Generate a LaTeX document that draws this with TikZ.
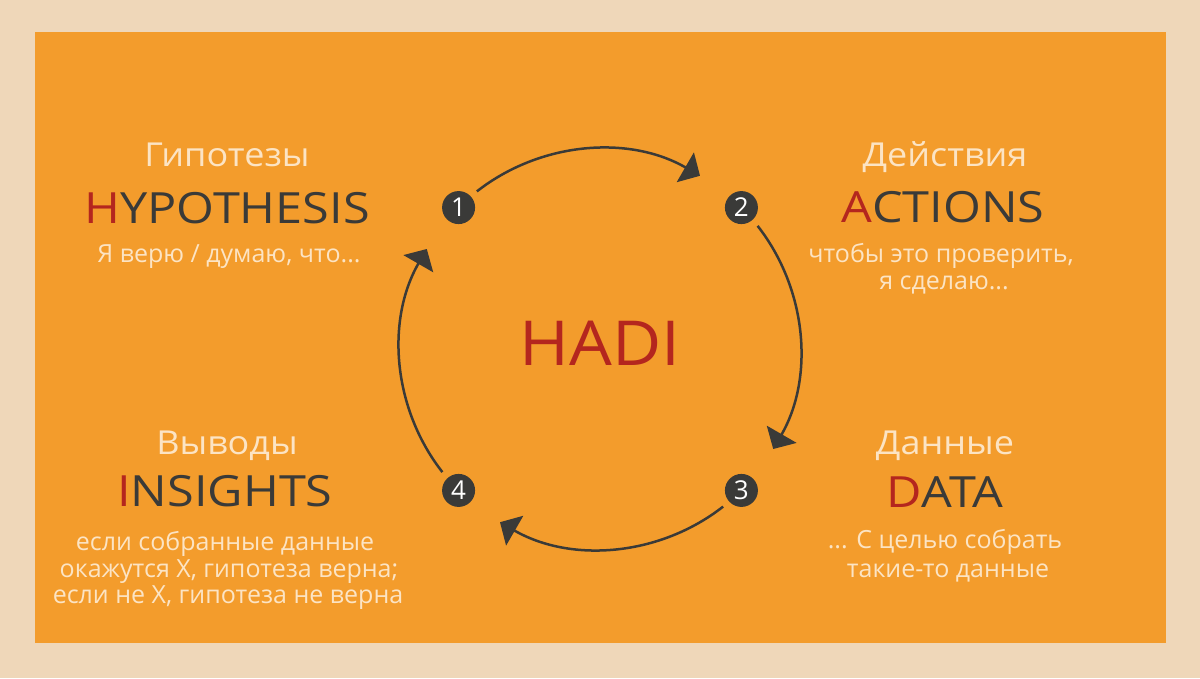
\documentclass[tikz,border=0pt]{standalone}
\usepackage{fontspec}
\setmainfont{Open Sans}
\newfontfamily\headfont{Open Sans}[FakeStretch=1.09]
\newfontfamily\enfont{Open Sans}[FakeStretch=1.13]
\usetikzlibrary{arrows.meta,calc}
\definecolor{beige}{RGB}{239,215,185}
\definecolor{orng}{RGB}{243,156,44}
\definecolor{lighttxt}{RGB}{252,228,196}
\definecolor{redtxt}{RGB}{180,38,30}
\definecolor{darktxt}{RGB}{58,58,56}
\tikzset{
  ru/.style={anchor=base,text=lighttxt,font=\headfont\fontsize{33}{38}\selectfont,inner sep=0pt},
  en/.style={anchor=base,text=darktxt,font=\enfont\fontsize{43}{50}\selectfont,inner sep=0pt},
  small/.style={anchor=base,text=lighttxt,font=\fontsize{25}{28}\selectfont,inner sep=0pt},
  num/.style={circle,fill=darktxt,minimum size=33pt,inner sep=0pt,text=white,font=\fontsize{26}{28}\selectfont},
  cyc/.style={draw=darktxt,line width=2.5pt,-{Triangle[length=17pt,width=34pt]}}
}
\newcommand{\R}[1]{\textcolor{redtxt}{#1}}
\begin{document}
\begin{tikzpicture}[x=1pt,y=1pt]
\useasboundingbox (0,0) rectangle (1200,678);
\fill[beige] (0,0) rectangle (1200,678);
\fill[orng] (35,35) rectangle (1166,646);
\coordinate (c) at (600,329);
% numbered circles
\node[num] (n1) at ($(c)+(135:200)$) {1};
\node[num] (n2) at ($(c)+(45:200)$) {2};
\node[num] (n3) at ($(c)+(-45:200)$) {3};
\node[num] (n4) at ($(c)+(-135:200)$) {4};
% arc endpoints
\coordinate (s1) at ($(c)+(128:200)$);
\coordinate (s2) at ($(c)+(38:200)$);
\coordinate (s3) at ($(c)+(-52:200)$);
\coordinate (s4) at ($(c)+(-142:200)$);
\draw[cyc] (s1) arc[start angle=128,end angle=60,radius=200];
\draw[cyc] (s2) arc[start angle=38,end angle=-30,radius=200];
\draw[cyc] (s3) arc[start angle=-52,end angle=-120,radius=200];
\draw[cyc] (s4) arc[start angle=-142,end angle=-210,radius=200];
% center
\node[anchor=base,inner sep=0pt,text=redtxt,font=\headfont\fontsize{62}{70}\selectfont] (hadi) at (600,312) {HADI};
% hypothesis
\node[ru] (h1) at (227,511) {Гипотезы};
\node[en] (h2) at (227,454) {\R{H}YPOTHESIS};
\node[small] (h3) at (229,415) {Я верю / думаю, что...};
% actions
\node[ru] (a1) at (945,511) {Действия};
\node[en] (a2) at (943,455) {\R{A}CTIONS};
\node[small] (a3) at (941,415) {чтобы это проверить,};
\node[small] (a4) at (944,388) {я сделаю...};
% insights
\node[ru] (i1) at (227,223) {Выводы};
\node[en] (i2) at (225,171) {\R{I}NSIGHTS};
\node[small] (i3) at (225,128) {если собранные данные};
\node[small] (i4) at (229,101) {окажутся X, гипотеза верна;};
\node[small] (i5) at (228,75) {если не X, гипотеза не верна};
% data
\node[ru] (d1) at (945,223) {Данные};
\node[en] (d2) at (945,170) {\R{D}ATA};
\node[small] (d3) at (945,129) {... С целью собрать};
\node[small] (d4) at (948,101) {такие-то данные};
\end{tikzpicture}
\end{document}
